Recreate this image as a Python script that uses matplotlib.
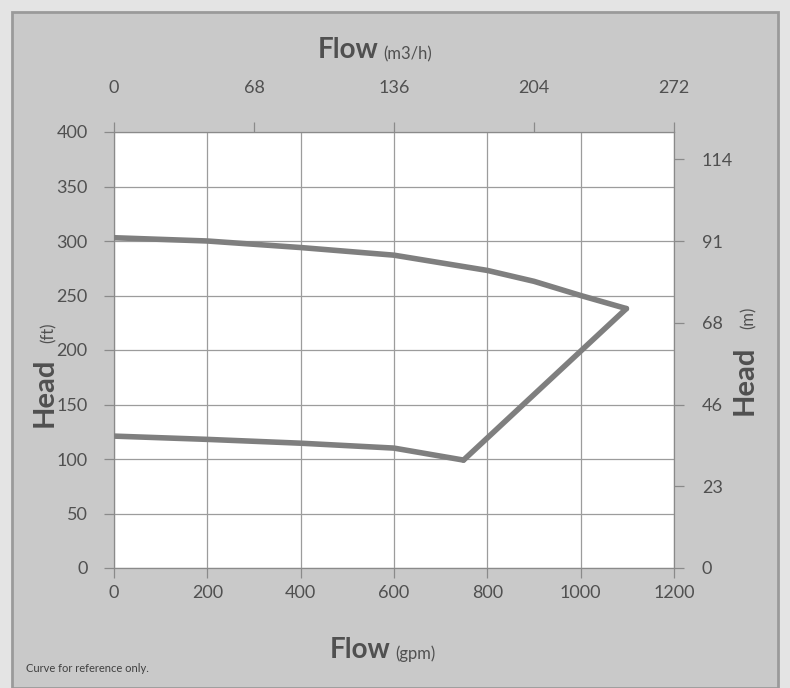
import matplotlib
matplotlib.use("Agg")
import matplotlib.pyplot as plt
from matplotlib.patches import Rectangle

plt.rcParams['font.family'] = ['Lato', 'DejaVu Sans']

# data
upper_gpm = [0, 200, 400, 600, 800, 900, 1000, 1098]
upper_ft = [303, 300, 294, 287, 273, 263, 250, 238]
tip_gpm = [1098, 749]
tip_ft = [238, 99]
lower_gpm = [749, 600, 400, 200, 0]
lower_ft = [99, 110, 114.5, 118, 121]

gpm_ticks = [0, 200, 400, 600, 800, 1000, 1200]
ft_ticks = [0, 50, 100, 150, 200, 250, 300, 350, 400]
m3h_at_gpm = [0, 300, 600, 900, 1200]
m3h_labels = ['0', '68', '136', '204', '272']
m_at_ft = [0, 75, 150, 225, 300, 375]
m_labels = ['0', '23', '46', '68', '91', '114']

txt = '#505050'
line_c = '#7f7f7f'

fig = plt.figure(figsize=(7.9, 6.88), dpi=100, facecolor='#e4e4e4')
# scanned-looking frame, behind everything
fig.patches.append(Rectangle((12 / 790, 0), 766 / 790, 676 / 688, transform=fig.transFigure,
                             facecolor='#c9c9c9', edgecolor='#9a9a9a', lw=2, zorder=-5))

ax = fig.add_axes([114 / 790, 120 / 688, 560 / 790, 436 / 688])
ax.set_facecolor('white')

ax.plot(upper_gpm, upper_ft, color=line_c, lw=4, solid_capstyle='round', zorder=3)
ax.plot(tip_gpm, tip_ft, color=line_c, lw=4, solid_capstyle='round', zorder=3)
ax.plot(lower_gpm, lower_ft, color=line_c, lw=4, solid_capstyle='round', zorder=3)

ax.set_xlim(0, 1200)
ax.set_ylim(0, 400)
ax.set_xticks(gpm_ticks)
ax.set_yticks(ft_ticks)
ax.grid(True, color='#9c9c9c', lw=0.9)
ax.set_axisbelow(True)
ax.tick_params(axis='both', colors='#8a8a8a', length=7, width=0.9, labelcolor=txt, labelsize=13)
ax.tick_params(axis='x', pad=5)
ax.tick_params(axis='y', pad=12)
for s in ax.spines.values():
    s.set_color('#8a8a8a')
    s.set_linewidth(0.9)

top = ax.twiny()
top.set_xlim(0, 1200)
top.set_xticks(m3h_at_gpm, m3h_labels)
top.tick_params(axis='x', colors='#8a8a8a', length=7, width=0.9, labelcolor=txt, labelsize=13, pad=19)

right = ax.twinx()
right.set_ylim(0, 400)
right.set_yticks(m_at_ft, m_labels)
right.tick_params(axis='y', colors='#8a8a8a', length=7, width=0.9, labelcolor=txt, labelsize=13, pad=13)
for a in (top, right):
    for s in a.spines.values():
        s.set_visible(False)

# axis titles
fig.text(378 / 790, 1 - 50 / 688, 'Flow', fontsize=20, fontweight='bold', color=txt, ha='right', va='center')
fig.text(383 / 790, 1 - 54 / 688, '(m3/h)', fontsize=12, color=txt, ha='left', va='center')
fig.text(390 / 790, 1 - 650 / 688, 'Flow', fontsize=20, fontweight='bold', color=txt, ha='right', va='center')
fig.text(395 / 790, 1 - 654 / 688, '(gpm)', fontsize=12, color=txt, ha='left', va='center')
fig.text(45 / 790, 1 - 392 / 688, 'Head', fontsize=21, fontweight='bold', color=txt, rotation=90,
         ha='center', va='center')
fig.text(49 / 790, 1 - 333 / 688, '(ft)', fontsize=12, color=txt, rotation=90, ha='center', va='center')
fig.text(745 / 790, 1 - 380 / 688, 'Head', fontsize=21, fontweight='bold', color=txt, rotation=90,
         ha='center', va='center')
fig.text(749 / 790, 1 - 318 / 688, '(m)', fontsize=12, color=txt, rotation=90, ha='center', va='center')
fig.text(26 / 790, 1 - 668 / 688, 'Curve for reference only.', fontsize=8, color='#404040', ha='left', va='center')

fig.savefig('out.png', dpi=100, facecolor=fig.get_facecolor())
